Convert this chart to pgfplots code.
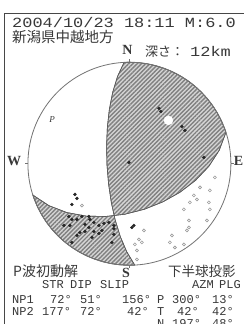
\documentclass[border=0pt]{standalone}
\usepackage{fontspec}
\usepackage{graphicx}
\usepackage{pgfplots}
\pgfplotsset{compat=1.18}
\usetikzlibrary{patterns.meta}
\setmainfont{Liberation Serif}
\newfontfamily\mono{Liberation Mono}
\newfontfamily\jp{Noto Sans CJK JP}
\definecolor{txt}{gray}{0.22}
\newcommand{\fs}[1]{\fontsize{#1bp}{#1bp}\selectfont}
\begin{document}
\begin{tikzpicture}[x=1bp,y=1bp]
\useasboundingbox (0,0) rectangle (244,-324);
\fill[white] (0,0) rectangle (244,-324);
\draw[black!72, line width=1.6bp] (4.5,-400) -- (4.5,-13.5) -- (400,-13.5);
% header
\node[anchor=base west, inner sep=0, txt] at (12,-27.5) {\mono\fs{14}\scalebox{1.21}[1]{2004/10/23 18:11 M:6.0}};
\node[anchor=base west, inner sep=0, txt] at (12,-42) {\jp\fs{14.5}新潟県中越地方};
\node[anchor=base, inner sep=0, txt] at (127.5,-54) {\bfseries\fs{14}N};
\node[anchor=base west, inner sep=0, txt] at (145,-56) {\jp\fs{13}深さ：};
\node[anchor=base west, inner sep=0, txt] at (190,-56) {\mono\fs{14}\scalebox{1.21}[1]{12km}};
\node[anchor=base, inner sep=0, txt] at (14,-165) {\bfseries\fs{14}W};
\node[anchor=base, inner sep=0, txt] at (238.5,-165) {\bfseries\fs{14}E};
\node[anchor=base, inner sep=0, txt] at (126,-277) {\bfseries\fs{14}S};
\node[anchor=base west, inner sep=0, txt] at (13,-276) {\jp\fs{14}P波初動解};
\node[anchor=base west, inner sep=0, txt] at (168,-276) {\jp\fs{13.5}下半球投影};
% table
\foreach \x/\t in {42/STR,70/DIP,100/SLIP,192/AZM,219/PLG}
  \node[anchor=base west, inner sep=0, txt] at (\x,-288.5) {\mono\fs{12}\t};
\foreach \x/\t in {12/NP1,50/72°,80/51°,122/156°,157/P,172/300°,212/13°}
  \node[anchor=base west, inner sep=0, txt] at (\x,-303) {\mono\fs{12}\t};
\foreach \x/\t in {12/NP2,42/177°,80/72°,127/42°,157/T,177/42°,212/42°}
  \node[anchor=base west, inner sep=0, txt] at (\x,-315) {\mono\fs{12}\t};
\foreach \x/\t in {157/N,172/197°,212/48°}
  \node[anchor=base west, inner sep=0, txt] at (\x,-327) {\mono\fs{12}\t};
\begin{axis}[at={(127.5,-161.3)}, anchor=center, scale only axis,
  width=203bp, height=203bp, xmin=-1, xmax=1, ymin=-1, ymax=1,
  hide axis, clip=false]
% compressional quadrant (NE)
\addplot[draw=black!65, line width=0.6bp, fill=black!16,
  postaction={pattern={Lines[angle=45,distance=3bp,line width=1.4bp]}, pattern color=black!50}]
 coordinates {
 (-0.0523,0.9986) (-0.1168,0.8604) (-0.1643,0.7053) (-0.1974,0.5372) (-0.2173,0.3594)
 (-0.2250,0.1753) (-0.2209,-0.0116) (-0.2054,-0.1979) (-0.1785,-0.3801) (-0.150,-0.510)
 (-0.0441,-0.4974) (0.1459,-0.4490) (0.3280,-0.3765) (0.4979,-0.2813) (0.6507,-0.1645)
 (0.7815,-0.0269) (0.8841,0.1310) (0.9511,0.3090)
 (0.9397,0.3420) (0.9063,0.4226) (0.8660,0.5) (0.8192,0.5736) (0.7660,0.6428) (0.7071,0.7071)
 (0.6428,0.7660) (0.5736,0.8192) (0.5,0.8660) (0.4226,0.9063) (0.3420,0.9397) (0.2588,0.9659)
 (0.1736,0.9848) (0.0872,0.9962) (0,1) (-0.0523,0.9986)};
% compressional quadrant (SW)
\addplot[draw=black!65, line width=0.6bp, fill=black!16,
  postaction={pattern={Lines[angle=45,distance=3bp,line width=1.4bp]}, pattern color=black!50}]
 coordinates {
 (-0.150,-0.510) (-0.1401,-0.5549) (-0.0897,-0.7186) (-0.0263,-0.8679) (0.0523,-0.9986)
 (0,-1) (-0.0872,-0.9962) (-0.1736,-0.9848) (-0.2588,-0.9659) (-0.3420,-0.9397) (-0.4226,-0.9063)
 (-0.5,-0.8660) (-0.5736,-0.8192) (-0.6428,-0.7660) (-0.7071,-0.7071) (-0.7660,-0.6428)
 (-0.8192,-0.5736) (-0.8660,-0.5) (-0.9063,-0.4226) (-0.9397,-0.3420) (-0.9511,-0.3090)
 (-0.7923,-0.4137) (-0.6164,-0.4811) (-0.4298,-0.5155) (-0.2374,-0.5202) (-0.150,-0.510)};
\draw[black!55, line width=0.8bp] (axis cs:0,0) circle[radius=1];
\draw[black!55, line width=0.8bp] (axis cs:0,1) -- (axis cs:0,1.03)
  (axis cs:0,-1) -- (axis cs:0,-1.03) (axis cs:1,0) -- (axis cs:1.03,0) (axis cs:-1,0) -- (axis cs:-1.03,0);
% up (black) first motions
\addplot[only marks, mark=*, mark size=1.5bp, black!85] coordinates {
 (0.291,0.545) (0.310,0.515) (0.517,0.367) (0.547,0.328) (0.734,0.062) (-0.005,0.013)
 (-0.537,-0.302) (-0.517,-0.342) (-0.567,-0.401)
 (-0.596,-0.520) (-0.567,-0.549) (-0.517,-0.549) (-0.468,-0.520) (-0.399,-0.520) (-0.389,-0.549)
 (-0.645,-0.608) (-0.586,-0.608) (-0.438,-0.598) (-0.350,-0.579) (-0.300,-0.608) (-0.251,-0.588)
 (-0.202,-0.579) (-0.153,-0.608) (-0.153,-0.697) (-0.172,-0.776) (-0.350,-0.667) (-0.300,-0.687)
 (-0.399,-0.628) (-0.517,-0.706) (-0.488,-0.677) (-0.567,-0.776) (-0.369,-0.726) (-0.438,-0.667)
 (-0.271,-0.657) (0.044,-0.608) (0.025,-0.628) (-0.153,-0.640)};
% down (open) first motions
\addplot[only marks, mark=o, mark size=1.5bp, black!40, line width=0.6bp] coordinates {
 (0.143,-0.657) (0.094,-0.746) (0.054,-0.795) (0.074,-0.854) (0.123,-0.775) (0.419,-0.706)
 (0.399,-0.775) (0.448,-0.825) (0.537,-0.795) (0.586,-0.628) (0.567,-0.657) (0.537,-0.450)
 (0.596,-0.381) (0.635,-0.312) (0.695,-0.233) (0.665,-0.352) (0.783,-0.381) (0.793,-0.450)
 (0.793,-0.263) (0.842,-0.135) (0.764,-0.559) (0.586,-0.559) (0.074,-0.943) (-0.468,-0.412)};
% P and T axes
\addplot[only marks, mark=*, mark size=4.5bp, mark options={fill=white, draw=white}] coordinates {(0.385,0.427)};
\node[black!55, font=\fs{8}] at (axis cs:0.385,0.427) {T};
\node[txt, font=\itshape\fs{9}] at (axis cs:-0.762,0.440) {P};
\end{axis}
\end{tikzpicture}
\end{document}
